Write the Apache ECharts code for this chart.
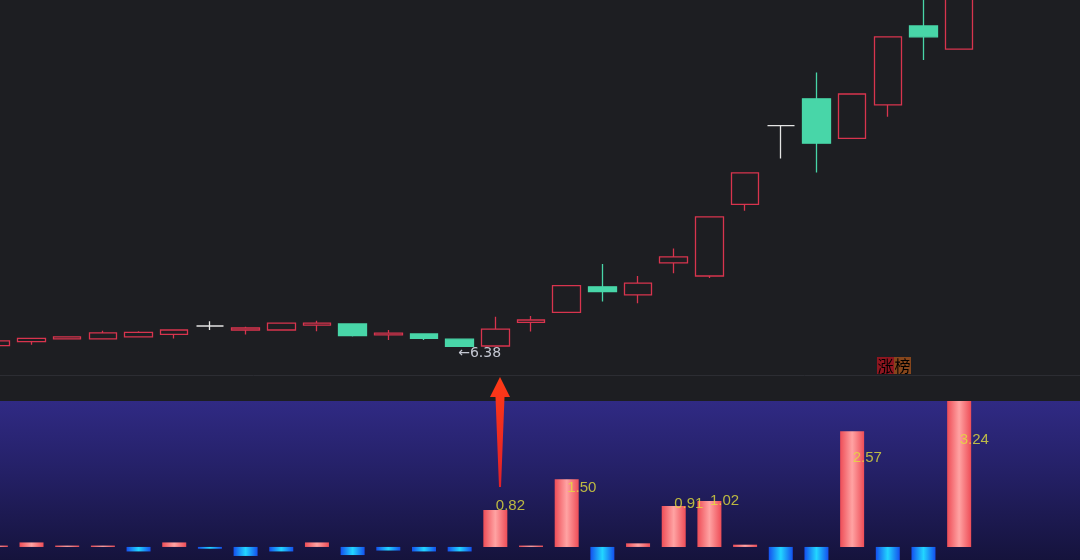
<!DOCTYPE html>
<html>
<head>
<meta charset="utf-8">
<script src="https://cdn.jsdelivr.net/npm/echarts@6/dist/echarts.min.js"></script>
<style>
html,body{margin:0;padding:0;background:#1d1e22;overflow:hidden;width:1080px;height:560px;position:relative;}
#chart{position:absolute;left:-22px;top:0;width:1102px;height:560px;}
</style>
</head>
<body>
<div id="chart"></div>
<script>
// ---- data ----
const days = ['d01','d02','d03','d04','d05','d06','d07','d08','d09','d10','d11','d12','d13','d14',
              'd15','d16','d17','d18','d19','d20','d21','d22','d23','d24','d25','d26','d27','d28'];
const openPrice  = [6.40,6.50,6.57,6.57,6.62,6.68,6.89,6.79,6.79,6.91,6.94,6.67,6.69,6.56,6.39,6.98,7.23,7.87,7.67,8.47,8.14,9.93,11.90,12.57,11.58,12.42,14.39,13.81];
const closePrice = [6.52,6.58,6.62,6.72,6.73,6.79,6.89,6.84,6.96,6.96,6.65,6.71,6.58,6.38,6.81,7.04,7.90,7.75,7.96,8.62,9.62,10.72,11.90,11.46,12.69,14.12,14.12,15.53];
const lowPrice   = [6.40,6.42,6.57,6.57,6.62,6.58,6.79,6.68,6.79,6.76,6.63,6.54,6.54,6.38,6.39,6.75,7.23,7.50,7.46,8.21,8.09,9.77,11.08,10.73,11.58,12.12,13.54,13.81];
const highPrice  = [6.52,6.58,6.62,6.77,6.76,6.79,7.01,6.87,6.96,7.02,6.96,6.79,6.69,6.58,7.12,7.14,7.90,8.44,8.14,8.83,9.62,10.72,11.90,13.23,12.69,14.12,15.30,15.53];
const flowValues = [0.03,0.10,0.03,0.03,-0.10,0.10,-0.04,-0.20,-0.10,0.10,-0.18,-0.08,-0.10,-0.10,0.82,0.03,1.50,-0.45,0.08,0.91,1.02,0.05,-0.45,-0.45,2.57,-0.45,-0.45,3.24];
const lowMarkValue = 6.38;
const lowMarkIndex = 13;
const boardTag = ['涨', '榜'];

// ---- styles ----
const UP = '#d8344e', DOWN = '#48d6a8', DOJI = '#e4e4e4', BG = '#1d1e22';
const DX = 22; // chart canvas is shifted 22px left of the page

const candleData = openPrice.map((o, i) => {
  const item = { value: [o, closePrice[i], lowPrice[i], highPrice[i]] };
  if (o === closePrice[i]) {
    item.itemStyle = { color: DOJI, color0: DOJI, borderColor: DOJI, borderColor0: DOJI, borderColorDoji: DOJI };
  }
  return item;
});
const labelData = flowValues.map(v => (v > 0.5 ? v : '-'));

const chart = echarts.init(document.getElementById('chart'), null, { renderer: 'canvas' });

const pinkGrad = () => new echarts.graphic.LinearGradient(0, 0, 1, 0, [
  { offset: 0, color: '#ee4d57' }, { offset: 0.5, color: '#ffa3a3' }, { offset: 1, color: '#ee4d57' }]);
const blueGrad = () => new echarts.graphic.LinearGradient(0, 0, 1, 0, [
  { offset: 0, color: '#1450ee' }, { offset: 0.5, color: '#22d6ff' }, { offset: 1, color: '#1450ee' }]);

const option = {
  backgroundColor: BG,
  animation: false,
  grid: [
    { left: 0, right: 103, top: 0, height: 376 },
    { left: 0, right: 103, top: 401, bottom: 0 }
  ],
  xAxis: [
    { type: 'category', gridIndex: 0, data: days, show: false, boundaryGap: true },
    { type: 'category', gridIndex: 1, data: days, show: false, boundaryGap: true }
  ],
  yAxis: [
    { type: 'value', gridIndex: 0, min: 5.64, max: 15.04, show: false, splitLine: { show: false } },
    { type: 'value', gridIndex: 1, min: -0.29, max: 3.24, show: false, splitLine: { show: false } },
    { type: 'value', gridIndex: 1, min: -1.16, max: 4.67, show: false, splitLine: { show: false } }
  ],
  graphic: [
    {
      type: 'rect', z: 0, silent: true,
      shape: { x: 0, y: 401, width: 1102, height: 159 },
      style: {
        fill: new echarts.graphic.LinearGradient(0, 0, 0, 1, [
          { offset: 0, color: '#302a84' }, { offset: 0.45, color: '#242066' }, { offset: 1, color: '#15133c' }])
      }
    },
    {
      type: 'line', z: 0, silent: true,
      shape: { x1: 0, y1: 375.5, x2: 1102, y2: 375.5 },
      style: { stroke: '#2c2d33', lineWidth: 1 }
    },
    {
      type: 'polygon', z: 100, silent: true,
      shape: { points: [[500 + DX, 377], [510 + DX, 397], [504.5 + DX, 397], [501 + DX, 487], [499 + DX, 487], [495.5 + DX, 397], [490 + DX, 397]] },
      style: { fill: new echarts.graphic.LinearGradient(0, 0, 0, 1, [
        { offset: 0, color: '#ff3a16' }, { offset: 1, color: '#e0202a' }]) }
    },
    {
      type: 'text', z: 100, silent: true, x: 877 + DX, y: 357,
      style: {
        text: '{a|' + boardTag[0] + '}{b|' + boardTag[1] + '}',
        fontSize: 16, fontFamily: 'Noto Sans CJK SC',
        rich: {
          a: { backgroundColor: '#8e1620', color: '#f4d2d2', fontSize: 16, fontFamily: 'Noto Sans CJK SC', lineHeight: 17, height: 17, width: 17, align: 'center' },
          b: { backgroundColor: '#86461c', color: '#f6e2cc', fontSize: 16, fontFamily: 'Noto Sans CJK SC', lineHeight: 17, height: 17, width: 17, align: 'center' }
        }
      }
    }
  ],
  series: [
    {
      type: 'candlestick',
      xAxisIndex: 0, yAxisIndex: 0,
      barWidth: 28,
      clip: true,
      data: candleData,
      itemStyle: {
        color: BG, color0: DOWN,
        borderColor: UP, borderColor0: DOWN, borderColorDoji: DOJI,
        borderWidth: 1.3
      },
      markPoint: {
        symbol: 'rect', symbolSize: 1,
        itemStyle: { color: 'rgba(0,0,0,0)' },
        data: [{
          coord: [lowMarkIndex, lowMarkValue],
          label: {
            show: true, position: 'right', distance: 0, offset: [-2, 7],
            formatter: '←' + lowMarkValue.toFixed(2),
            color: '#c4c7d2', fontSize: 14, fontFamily: 'DejaVu Sans'
          }
        }]
      }
    },
    {
      type: 'bar',
      xAxisIndex: 1, yAxisIndex: 1,
      barWidth: 24,
      clip: true,
      data: flowValues,
      itemStyle: {
        color: p => (p.value >= 0 ? pinkGrad() : blueGrad())
      }
    },
    {
      type: 'scatter',
      xAxisIndex: 1, yAxisIndex: 2,
      symbolSize: 1,
      itemStyle: { color: 'rgba(0,0,0,0)' },
      data: labelData,
      z: 5,
      label: {
        show: true, position: 'right', distance: 0,
        formatter: p => Number(Array.isArray(p.value) ? p.value[1] : p.value).toFixed(2),
        color: '#e2de3c', fontSize: 15, fontFamily: 'Liberation Sans'
      }
    }
  ]
};
chart.setOption(option);
</script>
</body>
</html>
